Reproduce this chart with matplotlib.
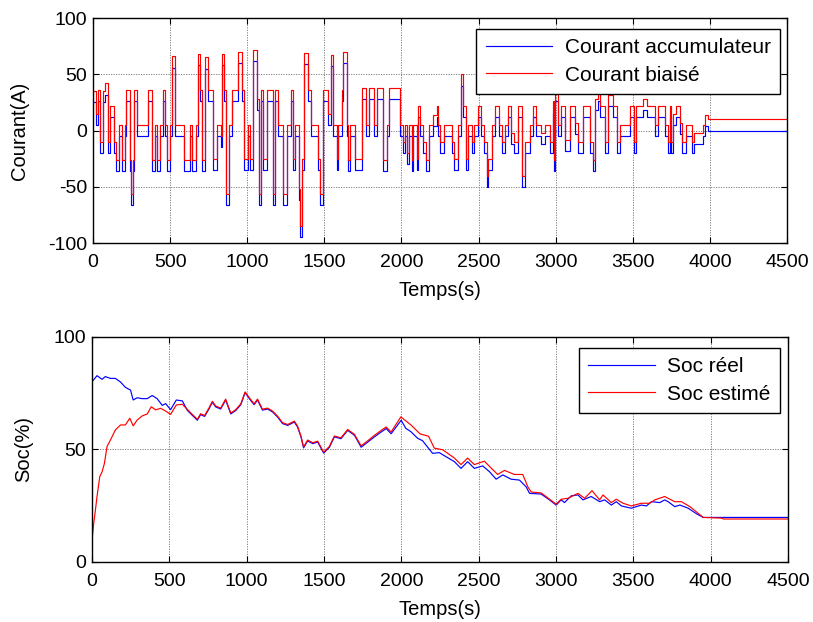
"""Courant accumulateur / biaisé et SoC réel / estimé."""

import matplotlib
matplotlib.use("Agg")
import matplotlib.pyplot as plt
import numpy as np

# --- courant (profil en marches), instants de début de chaque palier [s] et valeur [A]
t_courant = [
    0, 22, 30, 48, 65, 80, 95, 110, 134, 151, 166, 188, 210, 216, 238, 244, 257, 264,
    285, 354, 382, 404, 415, 436, 454, 467, 480, 501, 512, 534, 592, 626, 644, 670,
    678, 691, 706, 728, 743, 780, 802, 827, 834, 851, 860, 881, 903, 942, 964, 981,
    1002, 1017, 1039, 1061, 1076, 1089, 1104, 1126, 1164, 1180, 1201, 1234, 1255,
    1283, 1298, 1313, 1335, 1345, 1357, 1370, 1391, 1413, 1458, 1475, 1489, 1526,
    1543, 1558, 1580, 1591, 1612, 1619, 1645, 1655, 1666, 1699, 1742, 1770, 1790,
    1820, 1840, 1882, 1904, 1921, 1990, 2007, 2023, 2038, 2051, 2066, 2077, 2098,
    2108, 2120, 2137, 2159, 2180, 2206, 2228, 2240, 2250, 2278, 2330, 2343, 2365,
    2386, 2402, 2417, 2434, 2456, 2473, 2494, 2516, 2538, 2553, 2564, 2590, 2607,
    2633, 2650, 2672, 2689, 2710, 2732, 2758, 2784, 2801, 2834, 2855, 2870, 2905,
    2930, 2963, 2980, 2990, 2995, 3017, 3035, 3060, 3092, 3125, 3147, 3179, 3222,
    3240, 3255, 3275, 3287, 3319, 3341, 3373, 3395, 3416, 3481, 3510, 3520, 3568,
    3594, 3643, 3665, 3708, 3730, 3741, 3750, 3760, 3778, 3806, 3818, 3843, 3882,
    3899, 3957, 3968, 3990, 4500,
]
i_accu = [
    25, 5, 26, -20, 25, 32, -20, 12, -20, -36, -5, -36, -5, 26, -36, -66, -36, 26,
    -5, 26, -36, -5, -36, -5, 26, -5, -36, -5, 56, -5, -36, -5, -36, -5,
    58, 26, -36, 55, 26, -35, -5, -15, 58, 26, -66, -5, 26, 60, 26, -35,
    -5, -35, 62, 18, -66, 26, -35, 26, -66, 26, -5, -66, -5,
    26, -35, -5, -62, -95, -35, 59, 26, -5, -35, -66, 26, 5,
    57, -5, -35, -5, 26, 60, -5, -36, -5, -35, 28, -5, 28,
    -5, 28, -36, -5, 28, -5, -20, -5, -30, -5, -36, -5, -35,
    12, -5, -20, -36, -5, 4, 12, -5, -20, -5, -20, -35, -5,
    40, 12, -35, -5, -20, -5, 12, -5, -20, -50, -35, -5, 12,
    -5, -20, -5, 12, -12, -20, 12, -50, -20, -5, 12, -5, -12,
    -5, -20, 16, -36, 26, -5, 12, -18, 12, -3, -20, 12, -20,
    -36, 18, 26, 12, -20, 22, 12, -20, -5, 12, -20, 12, 18,
    12, -5, 12, -5, -20, 12, -20, 5, 12, -3, -20, -5, -20,
    -12, -5, 4, 0, 0,
]
biais = 10  # décalage constant du capteur [A]

# --- état de charge
t_soc_reel = [
    0, 32, 65, 86, 119, 151, 184, 216, 249, 266, 292, 324, 357, 389, 421, 454, 476,
    508, 545, 584, 616, 648, 681, 702, 728, 756, 778, 800, 832, 864, 897, 929, 962,
    990, 1016, 1048, 1070, 1102, 1135, 1167, 1200, 1232, 1265, 1308, 1329, 1351,
    1368, 1394, 1427, 1459, 1498, 1535, 1567, 1610, 1653, 1697, 1740, 1783, 1826,
    1870, 1902, 1934, 1999, 2029, 2062, 2105, 2137, 2202, 2245, 2289, 2343, 2386,
    2429, 2472, 2526, 2569, 2613, 2656, 2710, 2764, 2807, 2829, 2904, 2958, 3001,
    3034, 3055, 3099, 3142, 3174, 3228, 3282, 3315, 3358, 3390, 3423, 3487, 3552,
    3585, 3617, 3671, 3703, 3725, 3768, 3801, 3855, 3909, 3952, 4500,
]
soc_reel = [
    80.1, 82.8, 81.2, 82.4, 81.6, 81.6, 80.0, 77.6, 76.4, 72.0, 73.0, 72.6, 72.6,
    74.0, 72.6, 69.6, 70.4, 67.7, 72.0, 71.6, 67.4, 65.2, 63.0, 65.5, 64.7, 68.0,
    71.0, 68.9, 68.0, 72.0, 65.8, 67.3, 69.9, 75.3, 72.7, 69.9, 72.0, 67.5, 68.0,
    66.7, 64.4, 61.5, 60.7, 62.2, 60.0, 55.6, 50.7, 53.8, 52.6, 53.3, 48.4, 51.0,
    55.6, 54.8, 58.5, 56.3, 51.0, 53.3, 55.6, 57.8, 59.3, 57.0, 63.0, 59.4, 57.9,
    55.0, 53.9, 48.3, 48.6, 46.8, 44.6, 41.6, 44.6, 41.6, 42.7, 40.2, 36.8, 38.7,
    36.8, 36.4, 33.4, 30.5, 30.2, 27.6, 25.3, 27.6, 26.4, 29.4, 29.8, 27.6, 29.1,
    26.8, 27.6, 25.3, 26.8, 24.9, 23.9, 25.3, 24.9, 26.8, 26.4, 27.6, 26.8, 24.6,
    25.3, 23.9, 21.4, 19.8, 19.8,
]
t_soc_estime = [
    0, 11, 22, 32, 50, 65, 80, 97, 119, 151, 184, 216, 244, 266, 292, 324, 357, 383,
    411, 443, 476, 508, 545, 584, 616, 648, 681, 702, 728, 756, 778, 800, 832, 864,
    897, 929, 962, 990, 1016, 1048, 1070, 1102, 1135, 1167, 1200, 1232, 1265, 1308,
    1329, 1351, 1368, 1394, 1427, 1459, 1498, 1535, 1567, 1610, 1653, 1697, 1740,
    1783, 1826, 1870, 1902, 1934, 1997, 2062, 2122, 2176, 2213, 2267, 2343, 2386,
    2429, 2472, 2537, 2580, 2623, 2667, 2731, 2785, 2818, 2840, 2904, 3001, 3034,
    3077, 3142, 3185, 3233, 3282, 3304, 3358, 3390, 3434, 3487, 3552, 3606, 3639,
    3703, 3725, 3768, 3811, 3866, 3920, 3952, 4071, 4082, 4500,
]
soc_estime = [
    9.8, 17.2, 23.1, 29.0, 37.9, 40.1, 43.8, 51.3, 54.2, 58.7, 60.9, 60.9, 63.9,
    60.5, 63.1, 64.9, 65.8, 69.0, 67.6, 68.3, 67.1, 65.6, 69.8, 70.1, 67.8, 65.6,
    63.4, 65.9, 65.1, 68.4, 71.4, 69.3, 68.4, 72.4, 66.2, 67.7, 70.3, 75.6, 73.1,
    70.3, 72.4, 67.9, 68.4, 67.1, 64.8, 61.9, 61.1, 62.6, 60.4, 56.0, 51.1, 54.2,
    53.0, 53.7, 48.8, 51.4, 56.0, 55.2, 58.9, 56.7, 51.6, 53.9, 56.3, 58.5, 60.0,
    57.8, 64.5, 60.9, 56.9, 55.9, 50.6, 49.9, 46.2, 43.3, 46.2, 43.3, 44.8, 41.8,
    38.9, 40.7, 38.9, 38.9, 33.4, 31.1, 30.7, 25.7, 27.9, 28.3, 30.5, 28.3, 31.7,
    27.6, 29.8, 26.4, 27.9, 26.1, 24.9, 26.1, 26.1, 27.6, 29.1, 28.3, 26.8, 26.8,
    24.6, 21.6, 19.8, 19.5, 19.1, 19.1,
]

x_ticks = np.arange(0, 4501, 500)
BLEU = "#0000ff"
ROUGE = "#ff0000"
FS = 14
FS_LABEL = 14.5
FS_LEG = 15
LW = 0.85


def style_axes(ax, yticks):
    ax.set_xlim(0, 4500)
    ax.set_xticks(x_ticks)
    ax.set_yticks(yticks)
    ax.tick_params(direction="in", top=True, right=True, length=4, width=0.8,
                   labelsize=FS)
    ax.tick_params(axis="x", pad=8)
    ax.tick_params(axis="y", pad=4)
    ax.grid(True, color="0.45", linestyle=(0, (1.5, 1.5)), linewidth=0.6)
    for spine in ax.spines.values():
        spine.set_linewidth(1.0)
    ax.set_xlabel("Temps(s)", fontsize=FS_LABEL, labelpad=7)


def add_legend(ax, anchor):
    leg = ax.legend(loc="upper right", bbox_to_anchor=anchor, fontsize=FS_LEG,
                    fancybox=False, framealpha=1, edgecolor="black", borderaxespad=0,
                    handlelength=3.2, handletextpad=0.6, borderpad=0.45,
                    labelspacing=0.4)
    leg.get_frame().set_linewidth(1.0)
    return leg


plt.rcParams["font.family"] = ["Liberation Sans", "DejaVu Sans"]
plt.rcParams["axes.unicode_minus"] = False

fig = plt.figure(figsize=(8.13, 6.22), dpi=100)
ax1 = fig.add_axes([0.1144, 0.6093, 0.8536, 0.3617])
ax2 = fig.add_axes([0.1132, 0.0965, 0.856, 0.3617])

i_biaise = np.array(i_accu) + biais
ax1.step(t_courant, i_accu, where="post", color=BLEU, lw=LW, label="Courant accumulateur")
ax1.step(t_courant, i_biaise, where="post", color=ROUGE, lw=LW, label="Courant biaisé")
ax1.set_ylim(-100, 100)
style_axes(ax1, [-100, -50, 0, 50, 100])
ax1.set_ylabel("Courant(A)", fontsize=FS_LABEL)
ax1.yaxis.set_label_coords(-0.092, 0.5)
add_legend(ax1, (0.990, 0.951))

ax2.plot(t_soc_reel, soc_reel, color=BLEU, lw=LW, label="Soc réel")
ax2.plot(t_soc_estime, soc_estime, color=ROUGE, lw=LW, label="Soc estimé")
ax2.set_ylim(0, 100)
style_axes(ax2, [0, 50, 100])
ax2.set_ylabel("Soc(%)", fontsize=FS_LABEL)
ax2.yaxis.set_label_coords(-0.084, 0.5)
add_legend(ax2, (0.9885, 0.951))

fig.savefig("out.png", dpi=100)
plt.close(fig)
